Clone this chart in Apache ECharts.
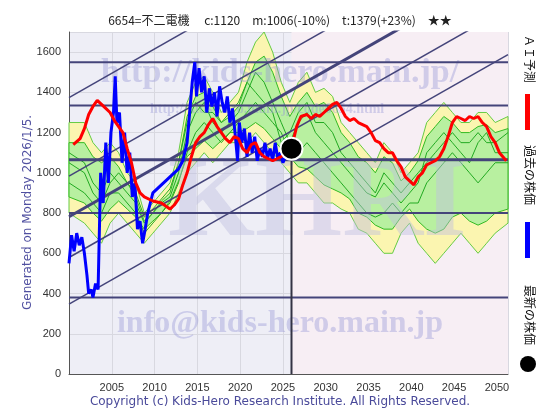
<!DOCTYPE html>
<html lang="ja">
<head>
<meta charset="UTF-8">
<title>6654</title>
<script src="https://cdn.jsdelivr.net/npm/echarts@6/dist/echarts.min.js"></script>
<style>html,body{margin:0;padding:0;background:#fff}#main{width:560px;height:420px}</style>
</head>
<body>
<div id="main"></div>
<script>
// past price (blue)
var pastYears = [2000.2,2000.5,2000.8,2001.1,2001.4,2001.7,2002.0,2002.3,2002.5,2002.8,2003.0,2003.3,2003.6,2003.9,2004.2,2004.5,2004.8,2005.1,2005.4,2005.6,2005.8,2006.1,2006.4,2006.7,2007.0,2007.3,2007.6,2007.9,2008.2,2008.5,2008.8,2009.1,2009.4,2009.7,2010.0,2010.5,2011.0,2011.5,2012.0,2012.5,2013.0,2013.5,2014.0,2014.3,2014.6,2014.9,2015.1,2015.4,2015.7,2016.0,2016.3,2016.6,2016.9,2017.2,2017.5,2017.8,2018.1,2018.4,2018.7,2019.0,2019.3,2019.6,2019.9,2020.1,2020.4,2020.7,2021.0,2021.3,2021.6,2021.9,2022.2,2022.5,2022.8,2023.1,2023.4,2023.7,2024.0,2024.3,2024.6,2024.9,2025.2,2025.5];
var pastVals  = [550,690,610,700,640,680,600,490,400,420,380,450,420,1000,850,1150,950,1200,1300,1480,1250,1300,1050,1200,1000,1100,880,950,720,760,650,720,800,850,900,920,940,960,980,1000,1020,1060,1150,1300,1450,1550,1380,1520,1400,1480,1300,1420,1330,1400,1280,1430,1350,1300,1380,1250,1320,1200,1060,1250,1150,1220,1080,1200,1100,1180,1060,1120,1080,1150,1070,1120,1060,1150,1070,1100,1050,1080];
// AI forecast (red)
var aiYears = [2000.7,2001.5,2002.0,2002.5,2003.0,2003.5,2004.0,2004.5,2005.0,2005.5,2006.0,2006.5,2007.0,2007.5,2008.0,2008.5,2009.0,2010.0,2011.0,2012.0,2012.5,2013.0,2013.5,2014.0,2014.5,2015.0,2015.5,2016.0,2016.5,2017.0,2017.5,2018.0,2018.5,2019.0,2019.5,2020.0,2020.5,2021.0,2021.5,2022.0,2022.5,2023.0,2023.5,2024.0,2024.5,2025.0,2026.3,2026.8,2027.3,2028.0,2028.5,2029.0,2029.5,2030.0,2030.5,2031.0,2031.5,2032.0,2032.5,2033.0,2033.5,2034.0,2034.5,2035.0,2035.5,2036.0,2036.5,2037.0,2037.5,2038.0,2038.5,2039.0,2039.5,2040.0,2040.5,2041.0,2041.5,2042.0,2042.5,2043.0,2043.5,2044.0,2044.5,2045.0,2045.5,2046.0,2046.5,2047.0,2047.5,2048.0,2048.5,2049.0,2049.5,2050.0,2050.5,2051.3];
var aiVals  = [1140,1170,1220,1290,1330,1360,1340,1320,1300,1260,1230,1200,1120,1050,950,900,880,860,850,820,840,870,940,1000,1080,1150,1180,1200,1240,1270,1230,1200,1170,1150,1180,1170,1120,1100,1140,1150,1100,1080,1070,1060,1070,1080,1140,1230,1280,1290,1270,1290,1280,1300,1320,1340,1350,1320,1280,1260,1270,1250,1240,1230,1200,1160,1150,1120,1100,1100,1060,1030,980,960,940,980,1000,1040,1050,1060,1080,1120,1180,1250,1280,1270,1260,1280,1270,1280,1250,1230,1180,1150,1100,1060];
// forecast bands
var bandYears = [2000.2,2002,2003,2004,2005,2006,2007,2008,2009,2010,2011,2012,2013,2014,2015,2016,2017,2018,2019,2020,2021,2022,2023,2024,2025,2026,2027,2028,2029,2030,2031,2032,2033,2034,2035,2036,2037,2038,2039,2040,2041,2042,2043,2044,2045,2046,2047,2048,2049,2050,2051.5];
var yellowHi = [1250,1250,1150,1100,1150,1100,1000,950,800,850,900,950,1100,1350,1450,1480,1400,1300,1350,1400,1550,1650,1700,1600,1450,1350,1450,1500,1400,1420,1380,1250,1200,1150,1100,1050,1150,1100,1000,1050,1100,1250,1300,1350,1300,1250,1250,1300,1300,1250,1280];
var yellowLo = [800,750,700,650,750,800,750,700,650,700,750,800,900,1000,1050,1100,1050,1100,1150,1150,1150,1200,1150,1100,1050,1000,950,950,900,850,850,820,800,720,700,650,600,600,700,750,650,600,550,600,650,700,650,600,650,700,750];
var greenHi = [1150,1150,1080,1050,1080,1030,950,880,760,800,860,900,1050,1280,1380,1400,1330,1250,1280,1330,1450,1550,1580,1500,1380,1280,1350,1400,1330,1350,1300,1200,1150,1080,1050,1000,1080,1050,960,1000,1060,1180,1230,1280,1250,1200,1200,1230,1240,1200,1220];
var greenLo = [880,850,800,760,820,860,820,780,720,760,800,860,960,1080,1120,1160,1120,1160,1200,1200,1220,1250,1220,1170,1120,1080,1030,1020,980,940,920,900,870,800,780,740,720,720,780,820,760,720,700,720,780,800,760,740,760,800,820];
var greenA = [1100,1050,950,900,1000,950,900,850,750,800,850,880,1000,1200,1300,1350,1250,1200,1250,1300,1400,1500,1450,1350,1250,1150,1250,1300,1200,1150,1100,1050,1000,950,900,880,950,900,850,900,950,1100,1150,1200,1150,1100,1050,1150,1200,1100,1100];
var greenB = [950,900,850,800,900,900,850,800,700,750,800,850,950,1100,1200,1250,1200,1150,1200,1250,1300,1350,1300,1250,1200,1100,1100,1150,1100,1050,1000,950,900,850,800,780,800,850,800,850,850,950,1000,1050,1100,1050,1000,950,1000,1050,1050];
var greenC = [1050,1000,900,850,950,1000,950,900,780,820,870,920,1050,1250,1350,1300,1300,1250,1300,1350,1450,1400,1350,1300,1150,1200,1300,1350,1250,1250,1200,1100,1050,1000,950,900,1000,950,900,950,1000,1050,1100,1150,1200,1150,1150,1200,1150,1150,1200];
// horizontal levels and channel lines (value at left and right edge)
var levels = [1550, 1335, 1065, 800, 380];
var channelStart = [1374, 984, 782, 579, 347];
var channelEnd = [2615, 2225, 2023, 1820, 1588];
var xMin = 2000.2, xMax = 2051.5, yMax = 1700;
var latest = [2026.2, 1120];

function pairs(xs, ys) { return xs.map(function (x, i) { return [x, ys[i]]; }); }

// band polygon drawn through the axes (upper edge, then lower edge backwards)
function bandSeries(hi, lo, fill, edge, z) {
    return {
        type: 'custom', z: z, silent: true, data: [0],
        renderItem: function (params, api) {
            var pts = [], i;
            for (i = 0; i < bandYears.length; i++) pts.push(api.coord([bandYears[i], hi[i]]));
            for (i = bandYears.length - 1; i >= 0; i--) pts.push(api.coord([bandYears[i], lo[i]]));
            return { type: 'polygon', shape: { points: pts }, style: { fill: fill, stroke: edge, lineWidth: 1 } };
        }
    };
}

var series = [];
// pink tint for the future half
series.push({ type: 'line', data: [[latest[0], yMax], [xMax, yMax]], symbol: 'none', lineStyle: { width: 0 },
    areaStyle: { color: '#f7eef4', opacity: 1 }, silent: true, z: 1 });
series.push(bandSeries(yellowHi, yellowLo, '#fbf5b0', '#66cc44', 2));
series.push(bandSeries(greenHi, greenLo, '#b8f0a0', '#33bb22', 3));
[greenA, greenB, greenC].forEach(function (g) {
    series.push({ type: 'line', data: pairs(bandYears, g), symbol: 'none', lineStyle: { width: 1, color: '#22aa22' }, silent: true, z: 4 });
});
levels.forEach(function (v, i) {
    series.push({ type: 'line', data: [[xMin, v], [xMax, v]], symbol: 'none', lineStyle: { width: i === 2 ? 3 : 2, color: '#44447a' }, silent: true, z: 6 });
});
channelStart.forEach(function (v, i) {
    series.push({ type: 'line', data: [[xMin, v], [xMax, channelEnd[i]]], symbol: 'none', clip: true, lineStyle: { width: i === 2 ? 3 : 1.5, color: '#44447a' }, silent: true, z: 6 });
});
series.push({ type: 'line', data: [[latest[0], 0], latest], symbol: 'none', lineStyle: { width: 2, color: '#333344' }, z: 6 });
series.push({ type: 'line', data: pairs(pastYears, pastVals), symbol: 'none', lineStyle: { width: 3, color: '#0000ff' }, z: 7 });
series.push({ type: 'line', data: pairs(aiYears, aiVals), symbol: 'none', lineStyle: { width: 3, color: '#ff0000' }, z: 7 });
series.push({ type: 'scatter', data: [latest], symbolSize: 22, itemStyle: { color: '#000', borderColor: '#fff', borderWidth: 2, opacity: 1 }, z: 8 });

var wm = 'rgba(150,150,215,0.4)';
var myChart = echarts.init(document.getElementById('main'));
myChart.setOption({
    animation: false,
    title: { text: '6654=不二電機　 c:1120　m:1006(-10%)　t:1379(+23%)　★★', left: 'center', top: 9,
        textStyle: { fontSize: 12, fontWeight: 'normal', color: '#222', fontFamily: 'Noto Sans CJK JP' } },
    grid: { left: 69, right: 52, top: 32, bottom: 46, show: true, backgroundColor: '#eeeef6', borderWidth: 0 },
    xAxis: {
        type: 'value', min: xMin, max: xMax, interval: 5,
        axisLabel: { showMinLabel: false, showMaxLabel: false, color: '#333', fontSize: 11,
            formatter: function (v) { return String(Math.round(v / 5) * 5); } },
        axisLine: { lineStyle: { color: '#555' } }, axisTick: { show: false },
        splitLine: { lineStyle: { color: '#d8d8e0' } }
    },
    yAxis: {
        type: 'value', min: 0, max: yMax, interval: 200,
        axisLabel: { showMaxLabel: false, color: '#333', fontSize: 11, formatter: function (v) { return String(v); } },
        axisLine: { show: true, lineStyle: { color: '#555' } }, axisTick: { show: false },
        splitLine: { lineStyle: { color: '#d8d8e0' } }
    },
    graphic: [
        { type: 'text', z: 5, left: 'center', top: 56, style: { text: 'http://kids-hero.main.jp/', fill: wm, font: 'bold 34px "Liberation Serif"' } },
        { type: 'text', z: 5, x: 150, y: 102, style: { text: 'http://kids-hero.main.jp/code6654.html', fill: wm, font: 'bold 14px "Liberation Serif"' } },
        { type: 'text', z: 5, x: 168, y: 150, style: { text: 'KHRI', fill: 'rgba(190,190,225,0.45)', font: 'bold 112px "Liberation Serif"' } },
        { type: 'text', z: 5, left: 'center', top: 308, style: { text: 'info@kids-hero.main.jp', fill: wm, font: 'bold 32px "Liberation Serif"' } },
        { type: 'text', x: 22, y: 310, rotation: Math.PI / 2, style: { text: 'Generated on Monday 2026/1/5.', fill: '#5050a0', font: '12px "DejaVu Sans"' } },
        { type: 'text', left: 'center', top: 396, style: { text: 'Copyright (c) Kids-Hero Research Institute. All Rights Reserved.', fill: '#4a4a9a', font: '12px "DejaVu Sans"' } },
        { type: 'text', x: 536, y: 35, rotation: -Math.PI / 2, style: { text: 'ＡＩ予測', fill: '#111', font: '12px "Noto Sans CJK JP"' } },
        { type: 'rect', shape: { x: 525, y: 94, width: 5, height: 36 }, style: { fill: '#ff0000' } },
        { type: 'text', x: 536, y: 145, rotation: -Math.PI / 2, style: { text: '過去の株価', fill: '#111', font: '12px "Noto Sans CJK JP"' } },
        { type: 'rect', shape: { x: 525, y: 222, width: 5, height: 36 }, style: { fill: '#0000ff' } },
        { type: 'text', x: 536, y: 285, rotation: -Math.PI / 2, style: { text: '最新の株価', fill: '#111', font: '12px "Noto Sans CJK JP"' } },
        { type: 'circle', shape: { cx: 528, cy: 364, r: 8 }, style: { fill: '#000' } }
    ],
    series: series
});
</script>
</body>
</html>
